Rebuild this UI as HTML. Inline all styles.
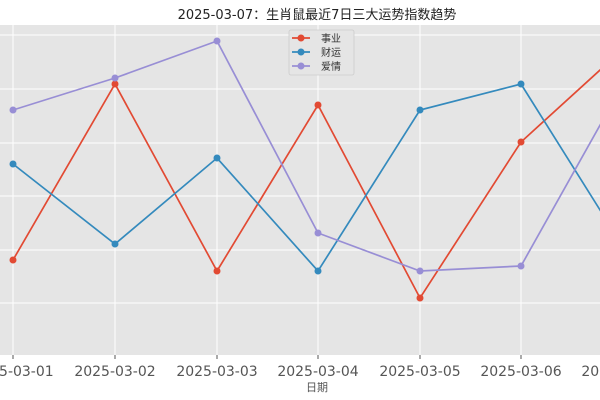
<!DOCTYPE html>
<html><head><meta charset="utf-8"><style>
body{margin:0;background:#fff}
svg{display:block;font-family:"DejaVu Sans","Noto Sans CJK SC",sans-serif}
</style></head><body>
<svg width="600" height="400" viewBox="0 0 600 400">
<rect width="600" height="400" fill="#fff"/>
<rect x="0" y="25" width="600" height="330" fill="#e5e5e5"/>
<g stroke="#fff" stroke-width="1">
<line x1="0" y1="35" x2="600" y2="35"/><line x1="0" y1="89" x2="600" y2="89"/>
<line x1="0" y1="143" x2="600" y2="143"/><line x1="0" y1="196" x2="600" y2="196"/>
<line x1="0" y1="250" x2="600" y2="250"/><line x1="0" y1="303" x2="600" y2="303"/>
<line x1="13" y1="25" x2="13" y2="355"/><line x1="115" y1="25" x2="115" y2="355"/>
<line x1="217" y1="25" x2="217" y2="355"/><line x1="318" y1="25" x2="318" y2="355"/>
<line x1="420" y1="25" x2="420" y2="355"/><line x1="521" y1="25" x2="521" y2="355"/>
</g>
<g stroke="#555" stroke-width="1">
<line x1="13" y1="355" x2="13" y2="359"/><line x1="115" y1="355" x2="115" y2="359"/>
<line x1="217" y1="355" x2="217" y2="359"/><line x1="318" y1="355" x2="318" y2="359"/>
<line x1="420" y1="355" x2="420" y2="359"/><line x1="521" y1="355" x2="521" y2="359"/>
</g>
<g fill="none" stroke-width="1.7">
<polyline stroke="#e24a33" points="13,260 115,84 217,271 318,105 420,298 521,142 622,50"/>
<polyline stroke="#348abd" points="13,164 115,244 217,158 318,271 420,110 521,84 622,245"/>
<polyline stroke="#988ed5" points="13,110 115,78 217,41 318,233 420,271 521,266 622,86"/>
</g>
<g fill="#e24a33"><circle cx="13" cy="260" r="3.5"/><circle cx="115" cy="84" r="3.5"/><circle cx="217" cy="271" r="3.5"/><circle cx="318" cy="105" r="3.5"/><circle cx="420" cy="298" r="3.5"/><circle cx="521" cy="142" r="3.5"/></g>
<g fill="#348abd"><circle cx="13" cy="164" r="3.5"/><circle cx="115" cy="244" r="3.5"/><circle cx="217" cy="158" r="3.5"/><circle cx="318" cy="271" r="3.5"/><circle cx="420" cy="110" r="3.5"/><circle cx="521" cy="84" r="3.5"/></g>
<g fill="#988ed5"><circle cx="13" cy="110" r="3.5"/><circle cx="115" cy="78" r="3.5"/><circle cx="217" cy="41" r="3.5"/><circle cx="318" cy="233" r="3.5"/><circle cx="420" cy="271" r="3.5"/><circle cx="521" cy="266" r="3.5"/></g>
<rect x="289" y="30" width="65" height="45" fill="#e5e5e5" stroke="#ccc" stroke-width="0.8" rx="2"/>
<g stroke-width="1.7"><line x1="292" y1="38" x2="310" y2="38" stroke="#e24a33"/><line x1="292" y1="52" x2="310" y2="52" stroke="#348abd"/><line x1="292" y1="66" x2="310" y2="66" stroke="#988ed5"/></g>
<circle cx="301" cy="38" r="3.5" fill="#e24a33"/><circle cx="301" cy="52" r="3.5" fill="#348abd"/><circle cx="301" cy="66" r="3.5" fill="#988ed5"/>
<g font-size="10" fill="#333"><text x="321" y="42">事业</text><text x="321" y="56">财运</text><text x="321" y="70">爱情</text></g>
<text x="317" y="19" text-anchor="middle" font-size="13" fill="#222">2025-03-07：生肖鼠最近7日三大运势指数趋势</text>
<g font-size="14" fill="#555" text-anchor="middle">
<text x="13" y="376">2025-03-01</text><text x="115" y="376">2025-03-02</text><text x="217" y="376">2025-03-03</text><text x="318" y="376">2025-03-04</text><text x="420" y="376">2025-03-05</text><text x="521" y="376">2025-03-06</text><text x="622" y="376">2025-03-07</text>
</g>
<text x="317" y="391" text-anchor="middle" font-size="11" fill="#555">日期</text>
</svg>
</body></html>
